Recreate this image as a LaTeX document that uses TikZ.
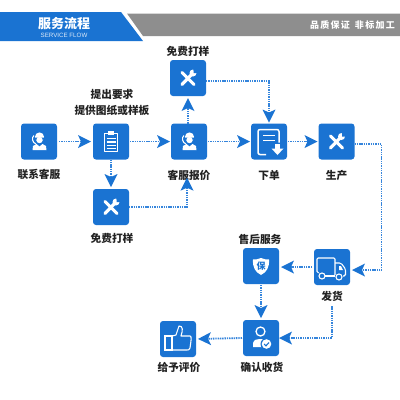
\documentclass[tikz,border=0pt]{standalone}
\usepackage{fontspec}
\setmainfont{Noto Sans CJK SC}
\setsansfont{Liberation Sans}
\usetikzlibrary{arrows.meta}
\definecolor{bluefill}{HTML}{1A73D2}
\definecolor{linkblue}{HTML}{3585DC}
\definecolor{bandgray}{HTML}{8E8E8E}
\definecolor{labelink}{HTML}{222222}
\tikzset{
  iconbox/.style={fill=bluefill,draw=none,rounded corners=3pt,minimum width=36pt,minimum height=36pt,inner sep=0pt,outer sep=0pt},
  lbl/.style={font=\fontsize{10.7}{12}\selectfont\bfseries,text=labelink,inner sep=0pt,outer sep=0pt},
  link/.style={draw=linkblue,line width=1.8pt,dash pattern=on 1.4pt off 0.9pt,-{Stealth[length=13pt,width=13pt,inset=3pt,color=bluefill,fill=bluefill,line width=0pt]}},
  ic/.style={draw=white,line width=1pt,fill=none,line join=round},
}
\newcommand{\wrenchicon}[1]{\begin{scope}[shift={(#1.center)}]
  \draw[white,line width=3pt,line cap=round] (-6,-5.5) -- (6,6.5);
  \draw[white,line width=3.2pt,line cap=round] (-6,6.5) -- (3.5,-3.5);
  \fill[white] (5,-5) circle (3.5);
  \fill[bluefill] (5.4,-9.5) -- (9.5,-9.5) -- (9.5,-5) -- (5.6,-5) -- cycle;
\end{scope}}
\newcommand{\agenticon}[1]{\begin{scope}[shift={(#1.center)}]
  \fill[white] (0.5,-4.5) circle (4.6);
  \fill[bluefill] (-4.5,-4) -- (5.5,-4) -- (5,-2.5) -- (0.5,0) -- (-3.5,-2) -- cycle;
  \fill[white] (0.5,-1.5) circle (3.2);
  \fill[white] (-6.5,8.5) -- (-6,4.5) -- (-2.5,2.5) -- (0.5,5) -- (3.5,2.5) -- (7,4.5) -- (7.5,8.5) -- cycle;
  \draw[white,line width=1.1pt] (-5,-6) .. controls (-7.5,-4) and (-7,1) .. (-3,2.5);
\end{scope}}
\newcommand{\clipicon}[1]{\begin{scope}[shift={(#1.center)}]
  \draw[ic,line width=1.1pt] (-6.5,-8) rectangle (6.5,10);
  \fill[white] (-3,-10.5) rectangle (3,-6.5);
  \foreach \y in {-3,0.5,4,7}{\draw[white,line width=1.2pt] (-4.5,\y) -- (4.5,\y);}
\end{scope}}
\newcommand{\docicon}[1]{\begin{scope}[shift={(#1.center)}]
  \draw[white,line width=1.5pt,rounded corners=2pt] (-3,13) -- (-11,13) -- (-11,-12) -- (10,-12) -- (10,1);
  \draw[white,line width=1.5pt] (-6,-6) -- (6,-6) (-6,-1) -- (6,-1);
  \fill[white] (6,2) rectangle (11,7);
  \fill[white] (2.5,7) -- (14.5,7) -- (8.5,13.5) -- cycle;
\end{scope}}
\newcommand{\shieldicon}[1]{\begin{scope}[shift={(#1.center)}]
  \fill[white] (0,-8) .. controls (3,-6.5) and (6,-6.5) .. (8,-6.5) .. controls (8.5,1) and (6,6) .. (0,9) .. controls (-6,6) and (-8.5,1) .. (-8,-6.5) .. controls (-6,-6.5) and (-3,-6.5) .. (0,-8) -- cycle;
  \node[font=\fontsize{9}{9}\selectfont\bfseries,text=bluefill,inner sep=0pt] (#1g) at (0,0) {保};
\end{scope}}
\newcommand{\truckicon}[1]{\begin{scope}[shift={(#1.center)}]
  \draw[white,line width=1.1pt,rounded corners=1.2pt] (-14,5.5) -- (-15,5.5) -- (-15,-9) -- (3,-9) -- (3,8);
  \draw[white,line width=1.1pt,rounded corners=1.5pt] (3,-4) -- (9,-4) -- (13.5,2) -- (13.5,9) -- (11,9);
  \draw[white,line width=1.1pt] (-7,9) -- (3,9);
  \draw[white,line width=1.1pt] (-10,9) circle (3) (7,10) circle (3);
  \fill[white] (7,-1) -- (9,-1) -- (11,3) -- (7,3) -- cycle;
\end{scope}}
\newcommand{\thumbicon}[1]{\begin{scope}[shift={(#1.center)}]
  \draw[white,line width=1.1pt] (-13,-3) rectangle (-6,11);
  \draw[white,line width=1.1pt,line join=round] (-6,-3) -- (-2,-4) -- (1,-13) .. controls (5,-13) and (5,-9) .. (3,-3) -- (12,-3) .. controls (14,-3) and (13,2) .. (12,9) .. controls (11.5,11) and (10,11) .. (9,11) -- (-6,11);
\end{scope}}
\newcommand{\checkicon}[1]{\begin{scope}[shift={(#1.center)}]
  \draw[white,line width=1.3pt] (-0.5,-6.5) circle (4.5);
  \fill[white] (-8,9) -- (-8,5) .. controls (-7,1.5) and (-4,1) .. (-1,1) .. controls (3,1) and (5,2) .. (6,9) -- cycle;
  \fill[bluefill] (5.5,6) circle (6);
  \fill[white] (5.5,6) circle (4.8);
  \draw[bluefill,line width=1.1pt] (3.2,6) -- (5,7.8) -- (8,4.5);
\end{scope}}
\newcommand{\sg}{\hspace{1.3pt}}
\begin{document}
\begin{tikzpicture}[x=1pt,y=-1pt]
\useasboundingbox (0,0) rectangle (400,400);
\fill[white] (0,0) rectangle (400,400);
% header
\fill[bandgray] (127,13.5) -- (400,13.5) -- (400,36) -- (143,36) -- cycle;
\fill[bluefill] (0,12) -- (121,12) -- (143,41) -- (0,41) -- cycle;
\node[font=\fontsize{13}{14}\selectfont\bfseries,text=white,inner sep=0pt] (title) at (64,23.5) {服务流程};
\node[font=\sffamily\fontsize{6.2}{7}\selectfont,text=white!85!bluefill,inner sep=0pt] (titleen) at (64,35) {SERVICE FLOW};
\node[font=\fontsize{9}{10}\selectfont\bfseries,text=white,inner sep=0pt] (slogan) at (352.5,25.5) {品\sg 质\sg 保\sg 证\hspace{5pt}非\sg 标\sg 加\sg 工};
% boxes
\node[iconbox] (a) at (39,141.5) {};
\node[iconbox] (b) at (111,141.5) {};
\node[iconbox] (c) at (189,141.5) {};
\node[iconbox] (d) at (188,78) {};
\node[iconbox] (e) at (269,141.5) {};
\node[iconbox] (f) at (336.5,141.5) {};
\node[iconbox] (g) at (111,207) {};
\node[iconbox] (h) at (332,267) {};
\node[iconbox] (i) at (261,266) {};
\node[iconbox] (j) at (261,338) {};
\node[iconbox] (k) at (178,339) {};
% labels
\node[lbl] (la) at (39,174.5) {联系客服};
\node[lbl] (lb1) at (112,94) {提出要求};
\node[lbl] (lb2) at (112,110.5) {提供图纸或样板};
\node[lbl] (ld) at (188,51) {免费打样};
\node[lbl] (lc) at (189,175.5) {客服报价};
\node[lbl] (le) at (269,175.5) {下单};
\node[lbl] (lf) at (336.5,175.5) {生产};
\node[lbl] (lg) at (112,238) {免费打样};
\node[lbl] (li) at (260,239) {售后服务};
\node[lbl] (lh) at (332,296) {发货};
\node[lbl] (lj) at (262,367) {确认收货};
\node[lbl] (lk) at (179,367) {给予评价};
% icons
\agenticon{a}\clipicon{b}\agenticon{c}\wrenchicon{d}\docicon{e}\wrenchicon{f}\wrenchicon{g}
\truckicon{h}\shieldicon{i}\checkicon{j}\thumbicon{k}
% connectors
\draw[link,shorten <=2pt,shorten >=2pt] (a.east) -- (b.west);
\draw[link,shorten <=1pt,shorten >=1pt] (b.east) -- (c.west);
\draw[link,shorten <=1pt,shorten >=1pt] (c.east) -- (e.west);
\draw[link,shorten >=2pt] (c.north -| d) -- (d.south);
\draw[link,shorten >=2pt] (b.south) -- (g.north);
\draw[link] (g.east) -| ([xshift=-2pt,yshift=3pt]lc.south);
\draw[link,shorten >=1pt] ([yshift=-3pt]d.east) -| (e.north);
\draw[link,shorten <=1pt,shorten >=1pt] (e.east) -- (f.west);
\draw[link] ([yshift=-2.5pt]f.east) -- ++(27,0) |- ([xshift=2pt,yshift=-3pt]h.east);
\draw[link,shorten <=2pt,shorten >=2pt] (h.west) -- (h.west -| i.east);
\draw[link,shorten <=1pt,shorten >=2pt] (i.south) -- (j.north);
\draw[link,shorten <=5pt] (lh.south) |- (j.east);
\draw[link,shorten <=1pt,shorten >=2pt] (j.west) -- (k.east);
\end{tikzpicture}
\end{document}
